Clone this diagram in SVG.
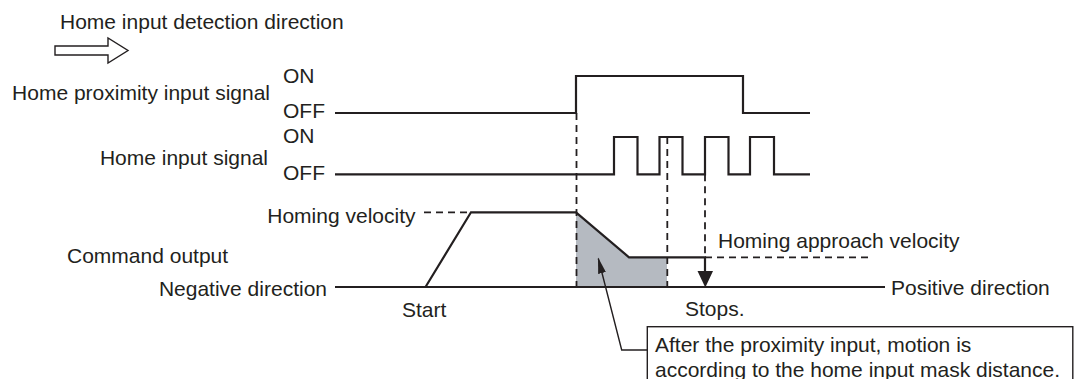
<svg xmlns="http://www.w3.org/2000/svg" width="1074" height="379" viewBox="0 0 1074 379">
<style>
text{font-family:"Liberation Sans",Arial,sans-serif;font-size:21px;fill:#231f20}
.s{fill:none;stroke:#231f20;stroke-width:2.2}
.d{fill:none;stroke:#231f20;stroke-width:1.8;stroke-dasharray:7 5}
.t{fill:none;stroke:#231f20;stroke-width:1.4}
</style>
<defs>
<marker id="lead" viewBox="0 0 16 8" refX="15" refY="4" markerWidth="16" markerHeight="8" markerUnits="userSpaceOnUse" orient="auto">
<path d="M0,0 L16,4 L0,8 Z" fill="#231f20"/>
</marker>
</defs>
<rect width="1074" height="379" fill="#fff"/>
<g id="direction">
<text x="60" y="29">Home input detection direction</text>
<path class="t" d="M55,46 L108,46 L108,38 L128,50.5 L108,63 L108,55 L55,55 Z"/>
</g>
<g id="proximity-signal">
<text x="270" y="100" text-anchor="end">Home proximity input signal</text>
<text x="283" y="83">ON</text>
<text x="283" y="118">OFF</text>
<path class="s" d="M335,113 H576 V76 H743 V113 H810"/>
</g>
<g id="home-signal">
<text x="268" y="164.5" text-anchor="end">Home input signal</text>
<text x="283" y="142.5">ON</text>
<text x="283" y="180">OFF</text>
<path class="s" d="M335,174.3 H614 V137 H637.5 V174.3 H659.5 V137 H682.5 V174.3 H705 V137 H728.5 V174.3 H750 V137 H774 V174.3 H810"/>
</g>
<g id="command-output">
<text x="67" y="262.5">Command output</text>
<text x="327" y="296" text-anchor="end">Negative direction</text>
<text x="891" y="294.5">Positive direction</text>
<text x="415.5" y="223" text-anchor="end">Homing velocity</text>
<text x="718" y="248">Homing approach velocity</text>
<text x="402" y="317">Start</text>
<text x="685" y="316">Stops.</text>
<polygon points="576,212.3 629,257.3 667,257.3 667,287 576,287" fill="#b5bac1"/>
<path class="s" d="M335,287 H885"/>
<path class="s" d="M425.5,287 L471,212.3 H576 L629,257.3 H705 V272"/>
<polygon points="697.5,271 713,271 705.3,287.5" fill="#231f20"/>
</g>
<g id="connectors">
<path class="d" d="M424,212.3 H471"/>
<path class="d" d="M705,257.3 H873"/>
<path class="d" d="M576.5,113 V287"/>
<path class="d" d="M667.3,137 V287"/>
<path class="d" d="M705,174.3 V257"/>
<path class="t" d="M647,350 H621.7 L598.3,258.5" marker-end="url(#lead)"/>
</g>
<g id="note">
<rect x="647.3" y="326.7" width="425.5" height="60" fill="#fff" stroke="#231f20" stroke-width="1.4"/>
<text x="655" y="352.3">After the proximity input, motion is</text>
<text x="655" y="376.5">according to the home input mask distance.</text>
</g>
</svg>
